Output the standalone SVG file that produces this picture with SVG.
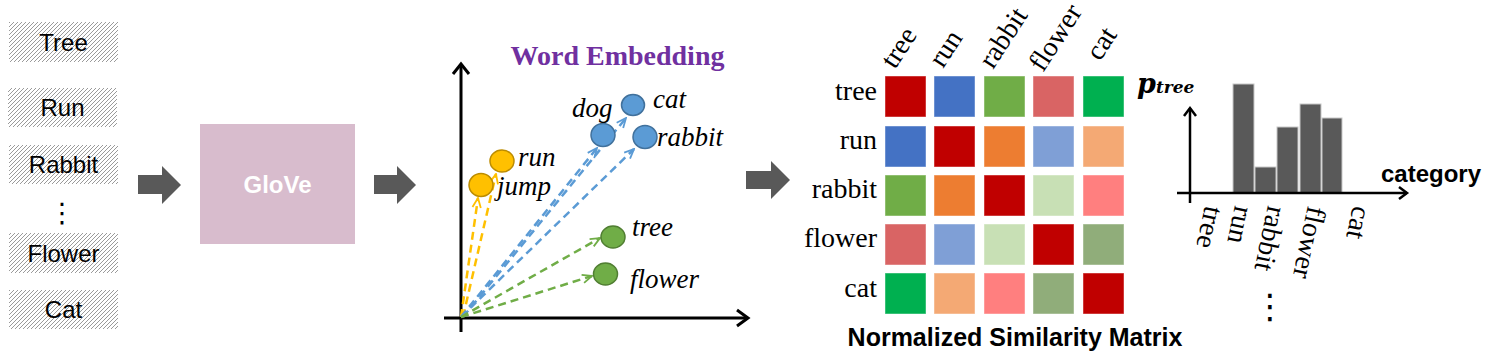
<svg xmlns="http://www.w3.org/2000/svg" width="1494" height="361" viewBox="0 0 1494 361">
<style>
.wbox{fill:url(#hatch);}
.wtxt{font-family:"Liberation Sans",Arial,sans-serif;font-size:24px;fill:#000;text-anchor:middle;}
.blk{fill:#595959;}
.axis{stroke:#000;stroke-width:3;fill:none;}
.axis2{stroke:#000;stroke-width:2.5;fill:none;}
.it{font-family:"Liberation Serif","Times New Roman",serif;font-style:italic;font-size:27px;fill:#000;}
.tm{font-family:"Liberation Serif","Times New Roman",serif;font-size:28px;fill:#000;}
.rl{text-anchor:end;}
.cell{stroke:#ffffff;stroke-opacity:0.45;stroke-width:1;}
.bar{fill:#595959;stroke:#c8c8c8;stroke-width:1;}
.vy{stroke:#ffc000;stroke-width:2.5;stroke-dasharray:8 5;fill:none;marker-end:url(#ay);}
.vb{stroke:#5b9bd5;stroke-width:2.5;stroke-dasharray:8 5;fill:none;marker-end:url(#ab);}
.vg{stroke:#70ad47;stroke-width:2.5;stroke-dasharray:8 5;fill:none;marker-end:url(#ag);}
.dy{fill:#ffc000;stroke:#bc8c00;stroke-width:1.5;}
.db{fill:#5b9bd5;stroke:#41719c;stroke-width:1.5;}
.dg{fill:#70ad47;stroke:#507e32;stroke-width:1.5;}
.bold{font-family:"Liberation Sans",Arial,sans-serif;font-weight:bold;fill:#000;}
</style>
<defs>
<pattern id="hatch" patternUnits="userSpaceOnUse" width="4" height="4">
<rect width="4" height="4" fill="#ffffff"/>
<path d="M-1,1 L1,-1 M0,4 L4,0 M3,5 L5,3" stroke="#9a9a9a" stroke-width="1"/>
</pattern>
<marker id="ay" markerUnits="userSpaceOnUse" markerWidth="12" markerHeight="12" viewBox="0 0 10 10" refX="9" refY="5" orient="auto"><path d="M1,1.5 L9,5 L1,8.5" fill="none" stroke="#ffc000" stroke-width="1.5"/></marker>
<marker id="ab" markerUnits="userSpaceOnUse" markerWidth="12" markerHeight="12" viewBox="0 0 10 10" refX="9" refY="5" orient="auto"><path d="M1,1.5 L9,5 L1,8.5" fill="none" stroke="#5b9bd5" stroke-width="1.5"/></marker>
<marker id="ag" markerUnits="userSpaceOnUse" markerWidth="12" markerHeight="12" viewBox="0 0 10 10" refX="9" refY="5" orient="auto"><path d="M1,1.5 L9,5 L1,8.5" fill="none" stroke="#70ad47" stroke-width="1.5"/></marker>
</defs>

<g id="words">
<g id="w-tree"><rect class="wbox" x="9" y="22" width="109" height="40"/><text class="wtxt" x="63.5" y="51">Tree</text></g>
<g id="w-run"><rect class="wbox" x="8" y="88" width="109" height="39"/><text class="wtxt" x="62.5" y="116">Run</text></g>
<g id="w-rabbit"><rect class="wbox" x="9" y="145" width="109" height="39"/><text class="wtxt" x="63.5" y="173">Rabbit</text></g>
<text x="62" y="222" font-family="DejaVu Sans,sans-serif" font-size="27" text-anchor="middle" fill="#000">⋮</text>
<g id="w-flower"><rect class="wbox" x="9" y="233" width="109" height="40"/><text class="wtxt" x="63.5" y="262">Flower</text></g>
<g id="w-cat"><rect class="wbox" x="9" y="290" width="109" height="39"/><text class="wtxt" x="63.5" y="318">Cat</text></g>
</g>

<g id="arrows">
<polygon class="blk" points="138,175 162,175 162,166 181,185 162,204 162,194 138,194"/>
<polygon class="blk" points="374,175 397,175 397,166 416,185 397,204 397,194 374,194"/>
<polygon class="blk" points="746,171 771,171 771,161 790,180 771,199 771,189 746,189"/>
</g>

<g id="glove">
<rect x="200" y="124" width="155" height="120" fill="#d8bccd"/>
<text x="277.5" y="193" class="bold" font-size="24" style="fill:#fff" text-anchor="middle">GloVe</text>
</g>

<g id="embedding">
<text x="617.5" y="65" font-family="Liberation Serif,'Times New Roman',serif" font-weight="bold" font-size="28" fill="#7030a0" text-anchor="middle">Word Embedding</text>
<line class="axis" x1="461" y1="332" x2="461" y2="64"/>
<polyline class="axis" points="453,74 461,64 469,74"/>
<line class="axis" x1="444" y1="318" x2="748" y2="318"/>
<polyline class="axis" points="737,310 748,318 737,326"/>
<g id="vectors">
<line class="vy" x1="461" y1="317" x2="478" y2="198"/>
<line class="vy" x1="463" y1="317" x2="496" y2="174"/>
<line class="vb" x1="461" y1="317" x2="597" y2="148"/>
<line class="vb" x1="463" y1="317" x2="626" y2="118"/>
<line class="vb" x1="461" y1="317" x2="634" y2="149"/>
<line class="vg" x1="461" y1="317" x2="600" y2="238"/>
<line class="vg" x1="461" y1="317" x2="592" y2="276"/>
</g>
<g id="pt-jump"><ellipse class="dy" cx="481" cy="185" rx="12" ry="11.5"/><text class="it" x="497" y="195">jump</text></g>
<g id="pt-run"><ellipse class="dy" cx="502" cy="161" rx="12" ry="11"/><text class="it" x="518" y="166">run</text></g>
<g id="pt-dog"><ellipse class="db" cx="603" cy="135" rx="12" ry="11.5"/><text class="it" x="572" y="117">dog</text></g>
<g id="pt-cat"><ellipse class="db" cx="633" cy="105" rx="11.5" ry="10.5"/><text class="it" x="653" y="108">cat</text></g>
<g id="pt-rabbit"><ellipse class="db" cx="645" cy="137" rx="12" ry="11.5"/><text class="it" x="657" y="146">rabbit</text></g>
<g id="pt-tree"><ellipse class="dg" cx="613" cy="237" rx="12" ry="11"/><text class="it" x="632" y="236">tree</text></g>
<g id="pt-flower"><ellipse class="dg" cx="605.5" cy="274" rx="12" ry="11"/><text class="it" x="630" y="288">flower</text></g>
</g>

<g id="matrix">
<g id="col-labels">
<text class="tm" transform="translate(895,70) rotate(-57)">tree</text>
<text class="tm" transform="translate(943,69) rotate(-57)">run</text>
<text class="tm" transform="translate(993,70) rotate(-57)">rabbit</text>
<text class="tm" font-size="26" transform="translate(1043,73) rotate(-57)">flower</text>
<text class="tm" transform="translate(1100,62) rotate(-57)">cat</text>
</g>
<g id="row-labels">
<text class="tm rl" x="877" y="100">tree</text>
<text class="tm rl" x="877" y="149">run</text>
<text class="tm rl" x="877" y="198">rabbit</text>
<text class="tm rl" x="877" y="247">flower</text>
<text class="tm rl" x="877" y="297">cat</text>
</g>
<g id="cells">
<rect class="cell" x="885" y="76" width="41" height="41" fill="#c00000"/>
<rect class="cell" x="934" y="76" width="41" height="41" fill="#4472c4"/>
<rect class="cell" x="984" y="76" width="41" height="41" fill="#70ad47"/>
<rect class="cell" x="1033" y="76" width="41" height="41" fill="#d96464"/>
<rect class="cell" x="1083" y="76" width="41" height="41" fill="#00b050"/>

<rect class="cell" x="885" y="126" width="41" height="41" fill="#4472c4"/>
<rect class="cell" x="934" y="126" width="41" height="41" fill="#c00000"/>
<rect class="cell" x="984" y="126" width="41" height="41" fill="#ed7d31"/>
<rect class="cell" x="1033" y="126" width="41" height="41" fill="#7f9fd6"/>
<rect class="cell" x="1083" y="126" width="41" height="41" fill="#f4a974"/>

<rect class="cell" x="885" y="175" width="41" height="41" fill="#70ad47"/>
<rect class="cell" x="934" y="175" width="41" height="41" fill="#ed7d31"/>
<rect class="cell" x="984" y="175" width="41" height="41" fill="#c00000"/>
<rect class="cell" x="1033" y="175" width="41" height="41" fill="#c8e0b5"/>
<rect class="cell" x="1083" y="175" width="41" height="41" fill="#ff7f7f"/>

<rect class="cell" x="885" y="224" width="41" height="41" fill="#d96464"/>
<rect class="cell" x="934" y="224" width="41" height="41" fill="#7f9fd6"/>
<rect class="cell" x="984" y="224" width="41" height="41" fill="#c8e0b5"/>
<rect class="cell" x="1033" y="224" width="41" height="41" fill="#c00000"/>
<rect class="cell" x="1083" y="224" width="41" height="41" fill="#90ad7a"/>

<rect class="cell" x="885" y="273" width="41" height="41" fill="#00b050"/>
<rect class="cell" x="934" y="273" width="41" height="41" fill="#f4a974"/>
<rect class="cell" x="984" y="273" width="41" height="41" fill="#ff7f7f"/>
<rect class="cell" x="1033" y="273" width="41" height="41" fill="#90ad7a"/>
<rect class="cell" x="1083" y="273" width="41" height="41" fill="#c00000"/>
</g>
<text class="bold" x="1015" y="346" font-size="25" text-anchor="middle">Normalized Similarity Matrix</text>
</g>

<g id="barchart">
<rect class="bar" x="1233" y="84" width="21" height="109"/>
<rect class="bar" x="1255" y="167" width="21" height="26"/>
<rect class="bar" x="1277" y="127" width="21" height="66"/>
<rect class="bar" x="1300" y="104" width="21" height="89"/>
<rect class="bar" x="1322" y="118" width="20" height="75"/>
<line class="axis2" x1="1190" y1="203" x2="1190" y2="108"/>
<polyline class="axis2" points="1184,116 1190,108 1196,116"/>
<line class="axis2" x1="1177" y1="193" x2="1407" y2="193"/>
<polyline class="axis2" points="1399,187 1407,193 1399,199"/>
<text x="1137" y="93" font-family="DejaVu Serif,serif" font-weight="bold" font-style="italic" font-size="27" fill="#000">p<tspan font-size="17">tree</tspan></text>
<text class="bold" x="1381" y="182" font-size="24">category</text>
<text class="tm" font-size="27" transform="translate(1205,205) rotate(102)">tree</text>
<text class="tm" font-size="27" transform="translate(1235,205) rotate(102)">run</text>
<text class="tm" font-size="27" transform="translate(1268,205) rotate(102)">rabbit</text>
<text class="tm" font-size="27" transform="translate(1308,205) rotate(102)">flower</text>
<text class="tm" font-size="27" transform="translate(1353,205) rotate(102)">cat</text>
<text x="1270" y="318" font-family="DejaVu Sans,sans-serif" font-size="34" text-anchor="middle" fill="#000">⋮</text>
</g>
</svg>
